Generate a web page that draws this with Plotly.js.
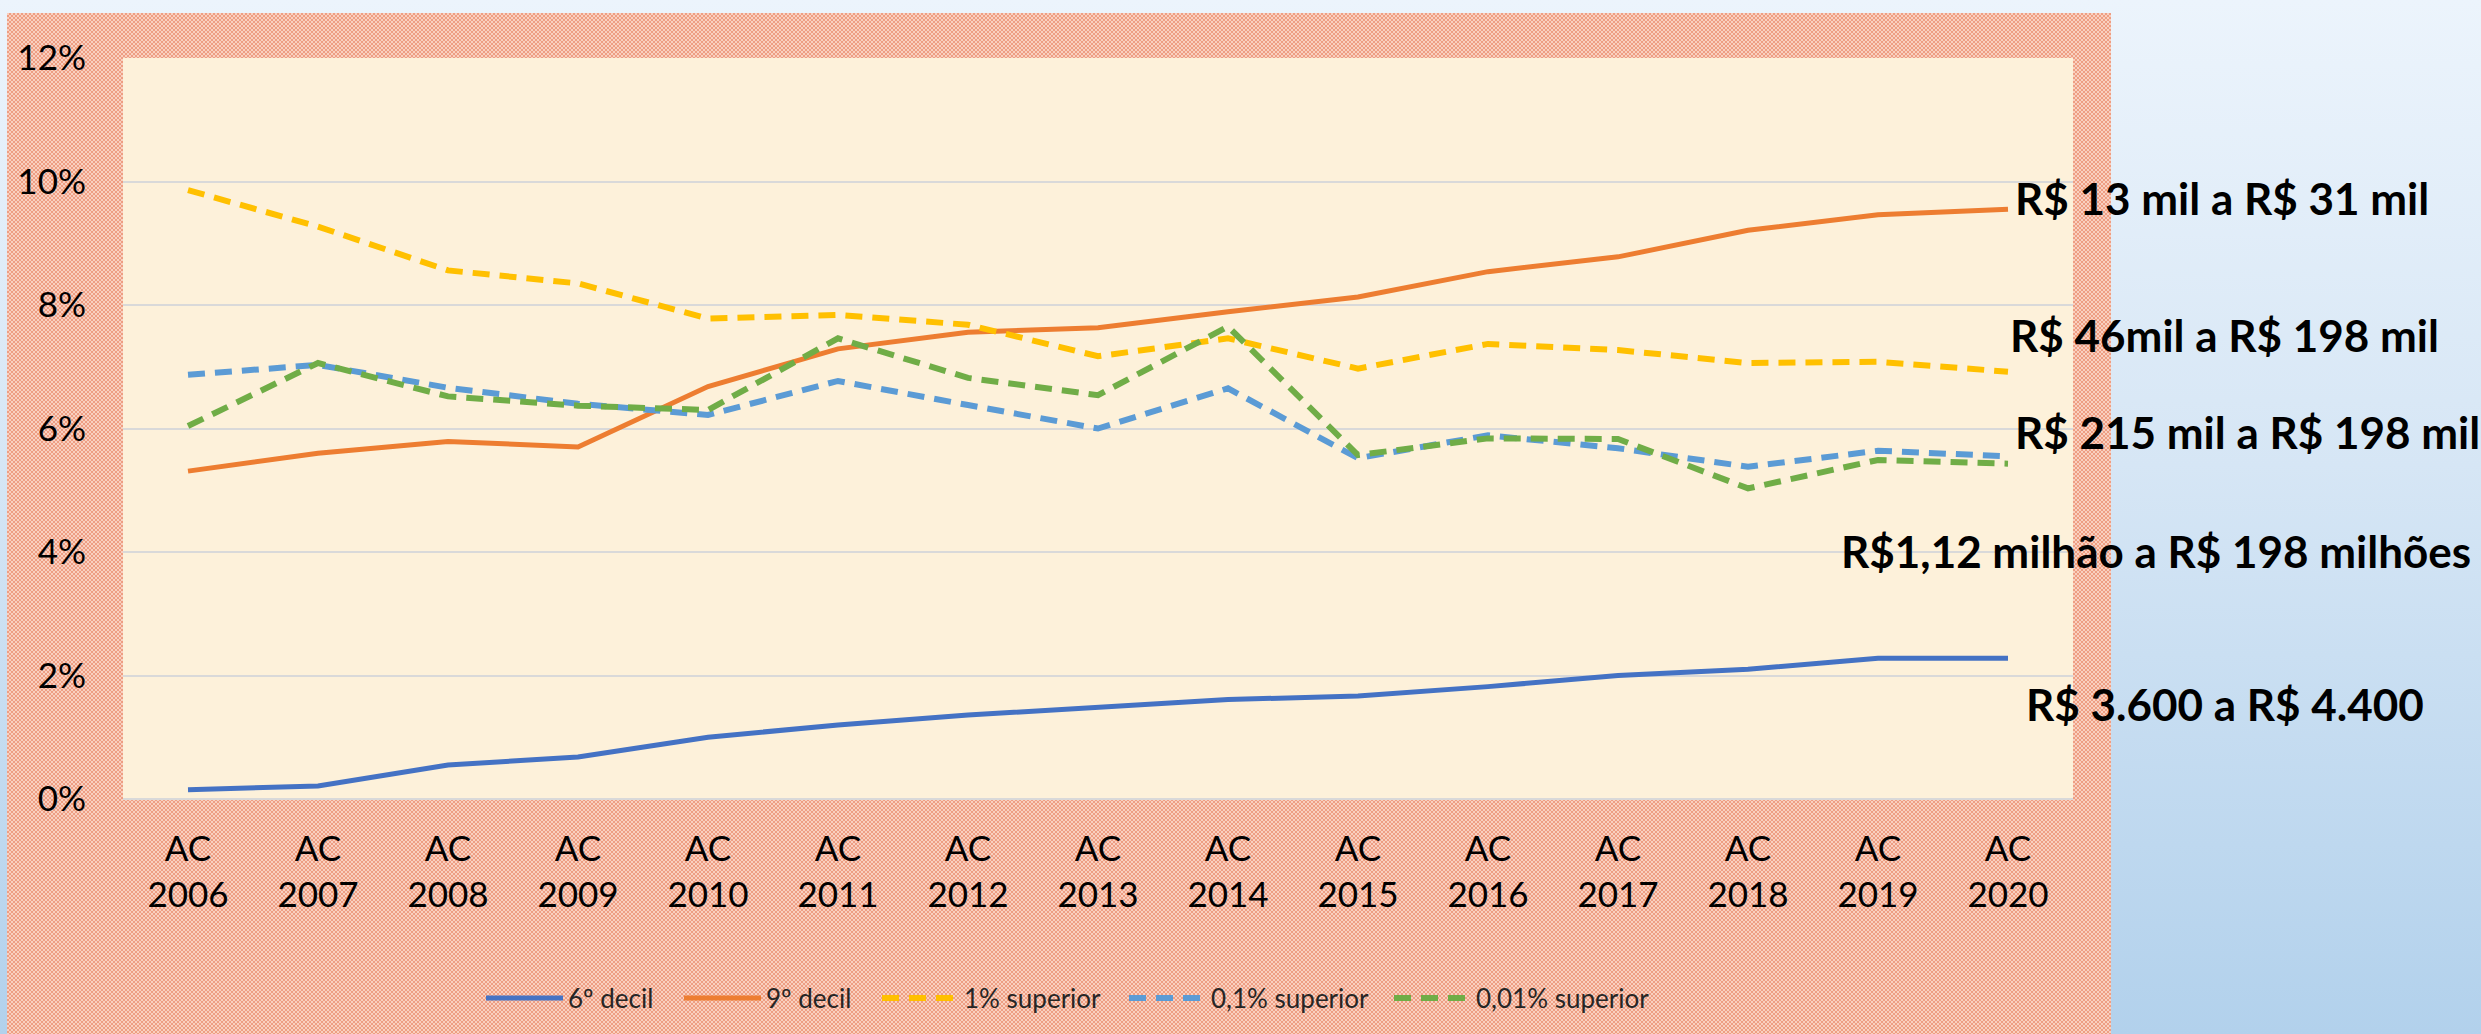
<!DOCTYPE html>
<html>
<head>
<meta charset="utf-8">
<script src="https://cdn.plot.ly/plotly-3.0.1.min.js"></script>
<style>
  html, body { margin:0; padding:0; width:2481px; height:1034px; overflow:hidden;
    background: linear-gradient(to bottom, #ECF4FC 0%, #D6E6F5 45%, #B2D1EC 100%); }
  #frame { position:absolute; left:7px; top:13px; width:2104px; height:1021px;
    background-color:#EE9E83;
    background-image: repeating-conic-gradient(#EE9E83 0% 25%, #F9D0C0 0% 50%);
    background-size: 4px 4px; }
  #chart { position:absolute; left:0; top:0; width:2481px; height:1034px; }
</style>
</head>
<body>
<div id="frame"></div>
<div id="chart"></div>
<script>
// Categories (calendar years) and axis tick labels
const years = ['2006','2007','2008','2009','2010','2011','2012','2013','2014','2015','2016','2017','2018','2019','2020'];
const tickLabels = years.map(y => 'AC<br>' + y);

// Series values (% of total)
const decil6   = [0.15, 0.21, 0.55, 0.68, 1.00, 1.20, 1.36, 1.49, 1.61, 1.67, 1.82, 2.00, 2.10, 2.28, 2.28];
const decil9   = [5.31, 5.60, 5.79, 5.70, 6.68, 7.29, 7.56, 7.63, 7.89, 8.13, 8.54, 8.78, 9.21, 9.46, 9.55];
const sup1     = [9.86, 9.27, 8.56, 8.35, 7.78, 7.84, 7.68, 7.17, 7.46, 6.97, 7.37, 7.27, 7.06, 7.08, 6.92];
const sup01    = [6.87, 7.03, 6.66, 6.40, 6.22, 6.77, 6.38, 6.00, 6.65, 5.52, 5.89, 5.68, 5.38, 5.64, 5.55];
const sup001   = [6.04, 7.06, 6.52, 6.37, 6.30, 7.46, 6.82, 6.54, 7.65, 5.57, 5.84, 5.83, 5.03, 5.49, 5.43];

const seriesNames = ['6º decil', '9º decil', '1% superior', '0,1% superior', '0,01% superior'];
const yTicks = [0, 2, 4, 6, 8, 10, 12];

// Range labels shown at the right
const rangeLabels = ['R$ 13 mil a R$ 31 mil', 'R$ 46mil a R$ 198 mil', 'R$ 215 mil a R$ 198 mil',
                     'R$1,12 milhão a R$ 198 milhões', 'R$ 3.600 a R$ 4.400'];

const cats = tickLabels;
const dashPat = '17px,10px';
const legendWidths = [106, 106, 155, 173, 170];
const traces = [
  {x: cats, y: decil6, name: seriesNames[0], mode: 'lines', line: {color: '#4472C4', width: 5}},
  {x: cats, y: decil9, name: seriesNames[1], mode: 'lines', line: {color: '#ED7D31', width: 5}},
  {x: cats, y: sup1,   name: seriesNames[2], mode: 'lines', line: {color: '#FFC000', width: 6, dash: dashPat}},
  {x: cats, y: sup01,  name: seriesNames[3], mode: 'lines', line: {color: '#5B9BD5', width: 6, dash: dashPat}},
  {x: cats, y: sup001, name: seriesNames[4], mode: 'lines', line: {color: '#70AD47', width: 6, dash: dashPat}}
];
traces.forEach((t, i) => { t.legendwidth = legendWidths[i]; });

const W = 2481, H = 1034, L = 123, R = 2073, T = 58, B = 799;
function px(x) { return (x - L) / (R - L); }
function py(y) { return (B - y) / (B - T); }
const annPos = [[2013, 198], [2008, 335], [2013, 432], [1839, 551], [2024, 704]];

const annotations = rangeLabels.map((t, i) => ({
  text: t, xref: 'paper', yref: 'paper', x: px(annPos[i][0]), y: py(annPos[i][1]),
  xanchor: 'left', yanchor: 'middle', showarrow: false,
  font: {family: 'Lato', size: 44, color: '#000000', weight: 'bold'}
}));

const layout = {
  width: W, height: H,
  margin: {l: L, r: W - R, t: T, b: H - B, pad: 0},
  paper_bgcolor: 'rgba(0,0,0,0)',
  plot_bgcolor: '#FDF1DA',
  showlegend: true,
  font: {family: 'Lato', color: '#000000'},
  xaxis: {
    type: 'category', range: [-0.5, 14.5], fixedrange: true,
    showgrid: false, zeroline: false, showline: false, ticks: '',
    tickfont: {family: 'Lato', size: 35, color: '#000000'},
    ticklabelstandoff: 26
  },
  yaxis: {
    range: [0, 12], tickvals: yTicks, ticktext: yTicks.map(v => v + '%'),
    showgrid: true, gridcolor: '#D9D9D9', gridwidth: 2,
    zeroline: true, zerolinecolor: '#D9D9D9', zerolinewidth: 2,
    showline: false, ticks: '',
    tickfont: {family: 'Lato', size: 35, color: '#000000'},
    ticklabelstandoff: 36
  },
  legend: {
    orientation: 'h', xref: 'container', yref: 'container',
    x: 1066 / W, xanchor: 'center', y: 1 - 998 / H, yanchor: 'middle',
    font: {family: 'Lato', size: 26, color: '#262626'},
    itemwidth: 77, bgcolor: 'rgba(0,0,0,0)', traceorder: 'normal'
  },
  annotations: annotations
};

Plotly.newPlot('chart', traces, layout, {displayModeBar: false, staticPlot: true});
</script>
</body>
</html>
